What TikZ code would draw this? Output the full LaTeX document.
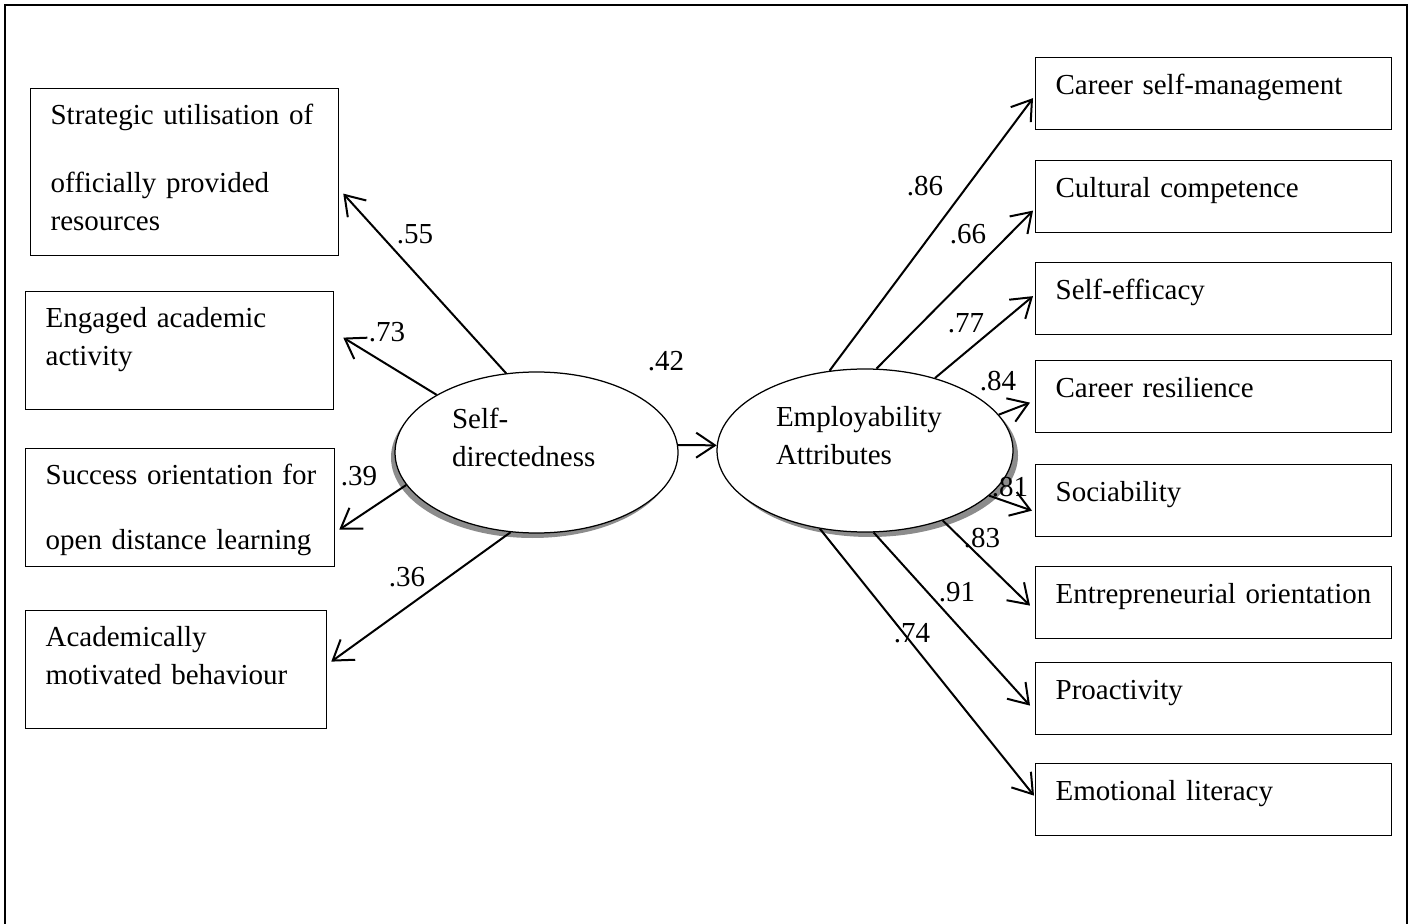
\documentclass[tikz,border=0pt]{standalone}
\usepackage{fontspec}
\setmainfont{Liberation Serif}
\usetikzlibrary{arrows.meta}
\usetikzlibrary{shapes.geometric}
\usetikzlibrary{shadows}
\usetikzlibrary{calc}
\newlength\px
\setlength\px{0.4pt}
\tikzset{
every node/.style={font=\fontsize{11.6}{15.2}\selectfont},
lbox/.style={draw, line width=0.5pt, anchor=north west, align=left, inner xsep=20\px, inner ysep=0pt, text height=36\px, text depth=82\px},
rbox/.style={draw, line width=0.5pt, anchor=north west, align=left, inner xsep=20\px, inner ysep=0pt, text width=316\px, text height=37\px, text depth=35\px},
latent/.style={ellipse, draw, line width=0.5pt, fill=white, inner sep=0pt, align=left, text height=0pt, text depth=47\px},
load/.style={line width=0.8pt, -{Straight Barb[length=7.5pt, width=10pt]}}
}
\begin{document}
\begin{tikzpicture}[x=0.4pt, y=-0.4pt]
\useasboundingbox (0,0) rectangle (1417,924);
\draw[line width=0.9pt] (5,924)--(5,5)--(1407,5)--(1407,924);

% latent variables
\node[latent, text width=169\px, minimum width=283\px, minimum height=161\px,
  drop shadow={shadow xshift=-1.6pt, shadow yshift=-2pt, fill=black!45, opacity=1}]
  (sd) at (536.5,452.5) {Self-\\directedness};
\node[latent, text width=178\px, minimum width=296\px, minimum height=163\px,
  drop shadow={shadow xshift=2pt, shadow yshift=-2pt, fill=black!45, opacity=1}]
  (emp) at (865,450.5) {Employability\\Attributes};

% self-directedness indicators
\node[lbox, text width=268\px, text depth=131\px] (b1) at (30,88) {\mbox{Strategic utilisation of}\\[30\px]officially provided\\resources};
\node[lbox, text width=268\px] (b2) at (25,291) {Engaged academic\\activity};
\node[lbox, text width=269\px] (b3) at (25,448) {\mbox{Success orientation for}\\[27\px]open distance learning};
\node[lbox, text width=261\px] (b4) at (25,610) {Academically\\motivated behaviour};

% employability indicators
\foreach \y/\n/\t in {57/cs/Career self-management, 160/cc/Cultural competence, 262/se/Self-efficacy, 360/cr/Career resilience, 464/so/Sociability, 566/eo/Entrepreneurial orientation, 662/pr/Proactivity, 763/el/Emotional literacy}{
\node[rbox] (\n) at (1035,\y) {\mbox{\t}};
}

\draw[load] (sd.111) -- ($(b1.east)+(4,21.5)$);
\draw[load] (sd.150) -- ($(b2.east)+(9,-13)$);
\draw[load] (sd.194) -- ($(b3.east)+(4,22)$);
\draw[load] (sd.252) -- ($(b4.east)+(4,-8)$);
\draw[load] (sd.3) -- (emp.178);
\foreach \a/\n/\dx/\dy in {114/cs/-2/4.5, 82/cc/-2/14, 46/se/-2/-2.5, 15/cr/-5/6, 340/so/-3/10, 318/eo/-5/3, 276/pr/-5/7, 240/el/-1/-4}{
\draw[load] (emp.\a) -- ($(\n.west)+(\dx,\dy)$);
}

% loadings
\foreach \x/\y/\v [count=\i] in {415/234/.55, 387/332/.73, 359/476/.39, 407/577/.36, 666/361/.42, 925/186/.86, 968/234/.66, 966/323/.77, 998/381/.84, 1010/487/.81, 982/538/.83, 957/592/.91, 912/633/.74}{
\node (c\i) at (\x,\y) {\v};
}
\end{tikzpicture}
\end{document}
